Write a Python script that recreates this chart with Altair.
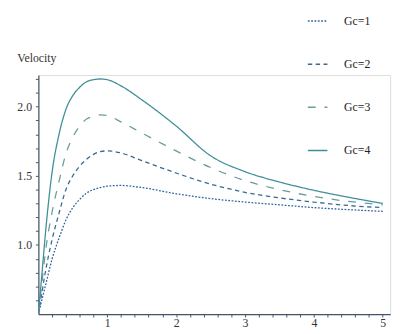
import altair as alt
import pandas as pd

x_vals = [0, 0.05, 0.1, 0.2, 0.3, 0.4, 0.5, 0.6, 0.7, 0.8, 0.9, 1.0, 1.2, 1.5, 2.0, 2.5, 3.0, 3.5, 4.0, 4.5, 5.0]
gc1 = [0.5, 0.60, 0.70, 0.90, 1.05, 1.18, 1.27, 1.33, 1.375, 1.40, 1.415, 1.425, 1.43, 1.415, 1.37, 1.335, 1.31, 1.29, 1.27, 1.255, 1.243]
gc2 = [0.5, 0.65, 0.80, 1.04, 1.23, 1.40, 1.50, 1.57, 1.62, 1.655, 1.675, 1.68, 1.665, 1.61, 1.52, 1.44, 1.38, 1.34, 1.31, 1.285, 1.27]
gc3 = [0.5, 0.72, 0.94, 1.24, 1.46, 1.66, 1.78, 1.86, 1.91, 1.93, 1.94, 1.935, 1.89, 1.81, 1.68, 1.56, 1.465, 1.40, 1.35, 1.315, 1.29]
gc4 = [0.5, 0.78, 1.07, 1.53, 1.80, 1.98, 2.08, 2.14, 2.18, 2.195, 2.20, 2.195, 2.15, 2.05, 1.86, 1.645, 1.53, 1.455, 1.395, 1.345, 1.30]
series_names = ["Gc=1", "Gc=2", "Gc=3", "Gc=4"]
x_minor = [round(0.2 * i, 1) for i in range(1, 26)]
y_minor = [round(0.6 + 0.1 * i, 1) for i in range(0, 17)]

rows = []
for name, ys in zip(series_names, [gc1, gc2, gc3, gc4]):
    for xv, yv in zip(x_vals, ys):
        rows.append({"eta": xv, "Velocity": yv, "series": name})
df = pd.DataFrame(rows)

W, H = 359, 244
font = "Liberation Serif"
axis_col = "#455566"

xs = alt.Scale(domain=[0, 5.107], nice=False, zero=False)
ys_ = alt.Scale(domain=[0.5, 2.229], nice=False, zero=False)

colors = ["#2f62a0", "#3a6a90", "#6a9c9a", "#3f8f9a"]
dashes = [[1.8, 1.6], [4.5, 3.5], [8, 9], [1, 0]]

x_label_expr = "abs(datum.value - round(datum.value)) < 0.001 ? format(datum.value, 'd') : ''"
y_label_expr = "abs(datum.value * 2 - round(datum.value * 2)) < 0.001 ? format(datum.value, '.1f') : ''"

lines = alt.Chart(df).mark_line(strokeWidth=1.3, clip=True, interpolate="monotone").encode(
    x=alt.X("eta:Q", scale=xs, axis=alt.Axis(
        orient="bottom", values=x_minor, labelExpr=x_label_expr, grid=False, title=None,
        tickColor=axis_col, tickSize=3, tickWidth=1,
        domainColor=axis_col, domainWidth=1.2, labelFont=font, labelFontSize=12,
        labelColor="#333333", labelPadding=1)),
    y=alt.Y("Velocity:Q", scale=ys_, axis=alt.Axis(
        orient="left", values=y_minor, labelExpr=y_label_expr, grid=False,
        tickColor=axis_col, tickSize=3, tickWidth=1,
        domainColor=axis_col, domainWidth=1.2, labelFont=font, labelFontSize=12,
        labelColor="#333333", labelPadding=4,
        title="Velocity", titleAngle=0, titleAlign="left", titleBaseline="alphabetic",
        titleX=-22, titleY=-14, titleFont=font, titleFontSize=12,
        titleFontWeight="normal", titleColor="#333333")),
    color=alt.Color("series:N", scale=alt.Scale(domain=series_names, range=colors),
                    legend=alt.Legend(
                        orient="none", legendX=274, legendY=-66, title=None,
                        symbolType="stroke", symbolSize=400, symbolStrokeWidth=1.5,
                        labelFont=font, labelFontSize=12, labelColor="#222222",
                        labelOffset=16, rowPadding=27)),
    strokeDash=alt.StrokeDash("series:N", scale=alt.Scale(domain=series_names, range=dashes),
                              legend=None),
)

chart = lines.properties(
    width=W, height=H,
    autosize=alt.AutoSizeParams(type="none"),
    padding={"left": 31, "top": 65, "right": 7, "bottom": 17},
).configure_view(stroke=None).configure(background="white")

chart.save("out.html", embed_options={"renderer": "svg", "actions": False})
